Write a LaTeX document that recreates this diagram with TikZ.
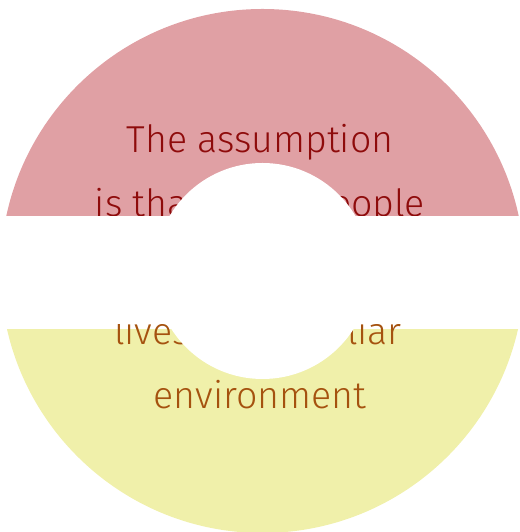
\documentclass[tikz,border=0pt]{standalone}
\usepackage{fontspec}
\setmainfont{Fira Sans Light}
\usepackage{xcolor}
\definecolor{ringtop}{HTML}{E0A0A4}
\definecolor{ringbot}{HTML}{F0F0AA}
\definecolor{texttop}{HTML}{8E0B0B}
\definecolor{textbot}{HTML}{A5520F}

\begin{document}
\begin{tikzpicture}[
  x=1pt, y=1pt,
  ringtext/.style={anchor=base, inner sep=0pt, font=\fontsize{37.5}{42}\selectfont},
  toptext/.style={ringtext, text=texttop},
  bottext/.style={ringtext, text=textbot},
  hole/.style={fill=white}
]
  \useasboundingbox (0,0) rectangle (519,532);
  \coordinate (centre) at (262.5,261);

  % upper half
  \begin{scope}
    \clip (0,316) rectangle (519,532);
    \fill[ringtop] (centre) circle[radius=262];
    \node[toptext] (assume) at (260,379) {The assumption};
    \node[toptext] (older) at (260,315) {is that older people};
    \fill[hole] (centre) circle[radius=108];
  \end{scope}

  % lower half
  \begin{scope}
    \clip (0,0) rectangle (519,202.5);
    \fill[ringbot] (centre) circle[radius=262];
  \end{scope}
  \begin{scope}
    \clip (0,0) rectangle (519,207);
    \node[bottext] (lives) at (258,187) {lives in a familiar};
    \node[bottext] (environ) at (260,123) {environment};
    \fill[hole] (centre) circle[radius=108];
  \end{scope}
\end{tikzpicture}
\end{document}
